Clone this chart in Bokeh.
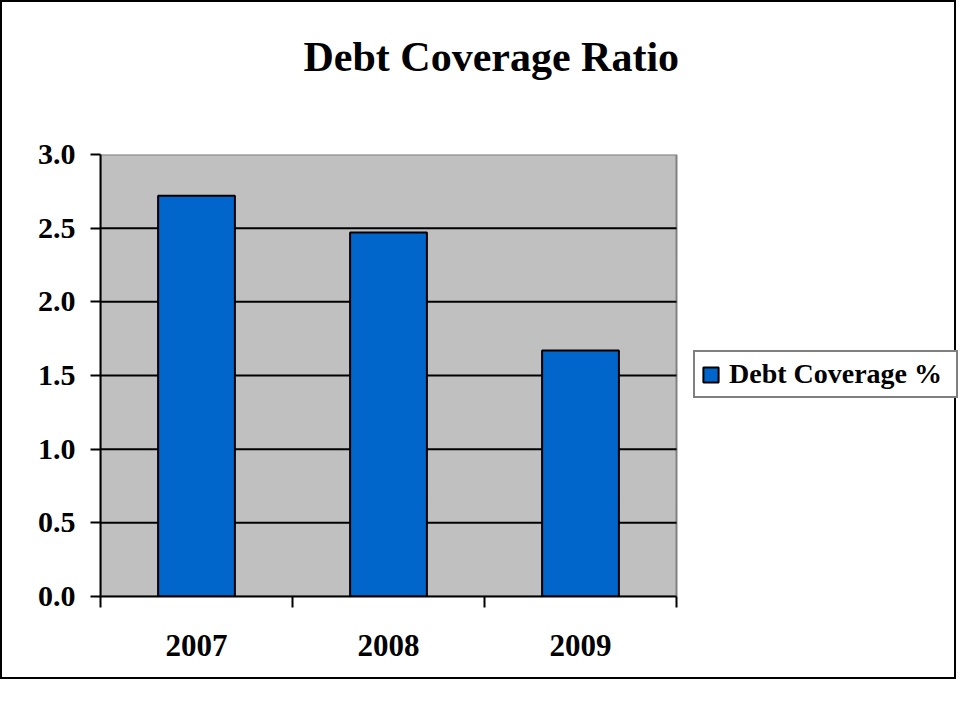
from bokeh.plotting import figure
from bokeh.models import (ColumnDataSource, FixedTicker, Legend, LegendItem,
                          Range1d, NumeralTickFormatter, Title)
from bokeh.embed import file_html
from bokeh.resources import INLINE

# ---- data ----
years = ["2007", "2008", "2009"]
debt_coverage = [2.72, 2.47, 1.67]
y_ticks = [0.0, 0.5, 1.0, 1.5, 2.0, 2.5, 3.0]
series_name = "Debt Coverage %"
chart_title = "Debt Coverage Ratio"

FONT = "Liberation Serif"

n = len(years)
y_max = y_ticks[-1]
# frame spans past the plot area so the legend (right of plot) is inside it
PLOT_PX = 576.0
FRAME_PX = 858.0
x_end = n * FRAME_PX / PLOT_PX

xpos = [i + 0.5 for i in range(n)]
src = ColumnDataSource(dict(x=xpos, top=debt_coverage, year=years))

p = figure(width=956, height=679, output_backend="svg", toolbar_location=None,
           x_range=Range1d(0, x_end), y_range=Range1d(0, y_max),
           min_border_left=98, min_border_top=152, min_border_bottom=85,
           min_border_right=0)
p.styles = {"border": "2px solid black"}

p.background_fill_color = "white"
p.border_fill_color = "white"
p.outline_line_color = None

# plot area (grey) with its grey outline
p.quad(left=[0], right=[n], bottom=[0], top=[y_max], fill_color="#C0C0C0",
       line_color="#808080", line_width=2)
# horizontal gridlines within the plot area
grid_y = y_ticks[1:-1]
p.segment(x0=[0] * len(grid_y), x1=[n] * len(grid_y), y0=grid_y, y1=grid_y,
          line_color="black", line_width=2)

r = p.vbar(x="x", top="top", width=0.4, source=src, fill_color="#0066CC",
           line_color="black", line_width=2)

# title (spacer between title and plot area is added nearest the frame)
p.add_layout(Title(text=" ", text_font_size="1px", standoff=70), "above")
p.title.text = chart_title
p.title.text_font = FONT
p.title.text_font_size = "42px"
p.title.text_font_style = "bold"
p.title.text_color = "black"
p.title.align = "left"
p.title.offset = 203
p.title.vertical_align = "top"
p.title.standoff = 0

# y axis
ya = p.yaxis[0]
ya.ticker = FixedTicker(ticks=y_ticks)
ya.formatter = NumeralTickFormatter(format="0.0")
ya.axis_line_color = "black"
ya.axis_line_width = 2
ya.major_tick_line_color = "black"
ya.major_tick_line_width = 2
ya.major_tick_out = 10
ya.major_tick_in = 0
ya.minor_tick_line_color = None
ya.major_label_text_font = FONT
ya.major_label_text_font_size = "30px"
ya.major_label_text_font_style = "bold"
ya.major_label_text_color = "black"
ya.major_label_standoff = 15

# x axis
xa = p.xaxis[0]
xa.bounds = (0, n)
xa.ticker = FixedTicker(ticks=xpos, minor_ticks=list(range(n + 1)))
xa.major_label_overrides = {x: y for x, y in zip(xpos, years)}
xa.axis_line_color = "black"
xa.axis_line_width = 2
xa.major_tick_line_color = None
xa.major_tick_out = 0
xa.major_tick_in = 0
xa.minor_tick_line_color = "black"
xa.minor_tick_line_width = 2
xa.minor_tick_out = 11
xa.minor_tick_in = 0
xa.major_label_text_font = FONT
xa.major_label_text_font_size = "31px"
xa.major_label_text_font_style = "bold"
xa.major_label_text_color = "black"
xa.major_label_standoff = 27

p.xgrid.grid_line_color = None
p.ygrid.grid_line_color = None

# legend
legend = Legend(items=[LegendItem(label=series_name, renderers=[r])],
                location=(593, 198), border_line_color="black",
                border_line_width=2, padding=6, spacing=0, margin=0,
                glyph_width=19, glyph_height=19, label_standoff=9,
                label_width=221,
                label_text_font=FONT, label_text_font_size="28px",
                label_text_font_style="bold", label_text_color="black",
                background_fill_color="white", background_fill_alpha=1.0)
p.add_layout(legend, "center")

open("out.html", "w").write(file_html(p, INLINE))
